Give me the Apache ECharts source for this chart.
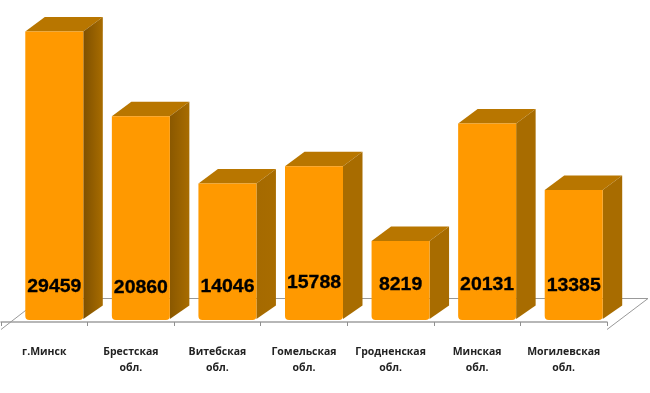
<!DOCTYPE html>
<html><head><meta charset="utf-8">
<style>html,body{margin:0;padding:0;background:#fff}#c{width:650px;height:393px}</style>
<script src="https://cdn.jsdelivr.net/npm/echarts@6/dist/echarts.min.js"></script>
</head><body><div id="c"></div>
<script>
const categories = ['г.Минск','Брестская\nобл.','Витебская\nобл.','Гомельская\nобл.','Гродненская\nобл.','Минская\nобл.','Могилевская\nобл.'];
const values = [29459,20860,14046,15788,8219,20131,13385];

const labelCentreY = [287,288,287,283,285,285,286];
const sideLeftColor = ['#7e5000','#8a5800','#a56a00','#a86c00','#a86c00','#a86c00','#a86c00'];
const DX = 19.5, DY = -14.5, BAR_W = 58, BAR_SHIFT = 10, FOOT = 2;
const chart = echarts.init(document.getElementById('c'), null, {renderer:'canvas'});

function renderFloor(params, api){
  const g = params.coordSys;
  const x0 = g.x, x1 = g.x + g.width, yFront = g.y + g.height + 7.5, yBack = yFront - 31;
  return {type:'polyline', shape:{points:[[x0,yFront],[x0+40,yBack],[x1+41,yBack],[x1,yFront]]},
          style:{stroke:'#999',lineWidth:1,fill:null}};
}
function renderBar(params, api){
  const idx = api.value(0), v = api.value(1);
  const base = api.coord([idx,0]), top = api.coord([idx,v]);
  const l = base[0] - BAR_W/2 + BAR_SHIFT, r = l + BAR_W, t = top[1], b = base[1] - FOOT;
  const side = new echarts.graphic.LinearGradient(0,0,1,0,[{offset:0,color:sideLeftColor[idx]},{offset:1,color:'#a86c00'}]);
  const cx = (l+r)/2, cy = labelCentreY[idx];
  return {type:'group', children:[
    {type:'polygon', shape:{points:[[l,t],[l+DX,t+DY],[r+DX,t+DY],[r,t]]}, style:{fill:'#b87600'}},
    {type:'polygon', shape:{points:[[r,t],[r+DX,t+DY],[r+DX,b+DY],[r,b-1]]}, style:{fill:side}},
    {type:'rect', shape:{x:l,y:t,width:BAR_W,height:b-t,r:[0,0,4,4]}, style:{fill:'#ff9900'}},
    {type:'text', x:cx, y:cy, scaleX:1.08, style:{x:0,y:0,text:String(v),fill:'#000',stroke:'#000',lineWidth:0.3,font:'bold 18px "Liberation Sans"',align:'center',verticalAlign:'middle'}}
  ]};
}

chart.setOption({
  animation:false,
  backgroundColor:'#fff',
  grid:{left:1,top:26.1,width:606,height:295.9,containLabel:false},
  xAxis:{type:'category',data:categories,offset:8,
    axisLine:{lineStyle:{color:'#a0a0a0',width:1.5}},
    axisTick:{show:true,length:4,alignWithLabel:false,lineStyle:{color:'#909090'}},
    axisLabel:{interval:0,margin:14,color:'#222',fontFamily:'"Open Sans"',fontWeight:'bold',fontSize:10.5,lineHeight:16}},
  yAxis:{type:'value',min:0,max:30000,show:false,splitLine:{show:false}},
  series:[
    {type:'custom',coordinateSystem:'cartesian2d',renderItem:renderFloor,data:[[0,0]],clip:false,silent:true,z:1},
    {type:'custom',coordinateSystem:'cartesian2d',renderItem:renderBar,encode:{x:0,y:1},clip:false,z:2,
     data:values.map((v,i)=>[i,v])}
  ]
});
</script></body></html>
